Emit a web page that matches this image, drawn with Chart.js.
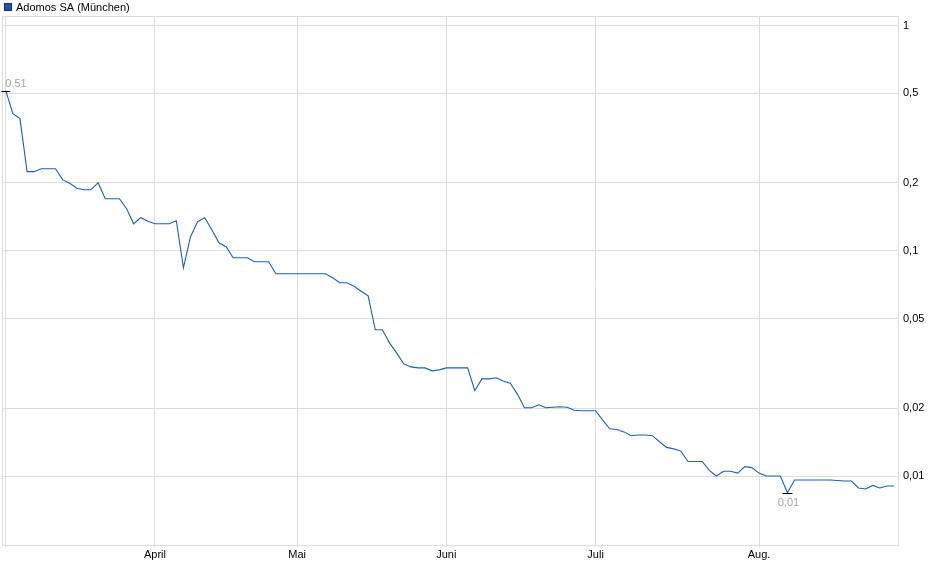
<!DOCTYPE html>
<html>
<head>
<meta charset="utf-8">
<script src="https://cdn.jsdelivr.net/npm/chart.js@4.4.0/dist/chart.umd.min.js"></script>
<style>
  html, body { margin: 0; padding: 0; background: #fff; }
</style>
</head>
<body>
<canvas id="kurs" width="940" height="579"></canvas>
<script>
// Kursdaten (Handelstage)
const seriesName = 'Adomos SA (München)';
const prices = [
    0.514, 0.406, 0.386, 0.2245, 0.2245, 0.2314, 0.2314, 0.2314, 0.2069, 0.1995,
    0.1896, 0.1867, 0.1867, 0.2006, 0.1702, 0.1702, 0.1702, 0.1537, 0.1318, 0.1402,
    0.1353, 0.1318, 0.1318, 0.1318, 0.136, 0.084, 0.1154, 0.1345, 0.1402, 0.124,
    0.1085, 0.1042, 0.0931, 0.0931, 0.0931, 0.0894, 0.0894, 0.0894, 0.079, 0.079,
    0.079, 0.079, 0.079, 0.079, 0.079, 0.079, 0.0759, 0.0721, 0.0721, 0.0696,
    0.0661, 0.0631, 0.0446, 0.0446, 0.039, 0.0352, 0.0315, 0.0305, 0.0302, 0.0302,
    0.0293, 0.0296, 0.0302, 0.0302, 0.0302, 0.0302, 0.0239, 0.027, 0.027, 0.0273,
    0.0264, 0.0258, 0.0231, 0.0201, 0.0201, 0.0207, 0.0201, 0.0202, 0.0203, 0.0202,
    0.0196, 0.0195, 0.0195, 0.0195, 0.0177, 0.0162, 0.0161, 0.0157, 0.0151, 0.0152,
    0.0152, 0.0151, 0.0142, 0.0134, 0.0132, 0.0129, 0.0116, 0.0116, 0.0116, 0.0106,
    0.0100, 0.0105, 0.0105, 0.0103, 0.0110, 0.0109, 0.0103, 0.0100, 0.0100, 0.0100,
    0.00843, 0.0096, 0.0096, 0.0096, 0.0096, 0.0096, 0.0096, 0.00955, 0.0095, 0.0095,
    0.00885, 0.00876, 0.00908, 0.00885, 0.00903, 0.00903
];
// Monatsanfaenge (Index des Handelstages)
const monthTicks = [0, 21, 41, 62, 83, 106];
const monthLabels = ['', 'April', 'Mai', 'Juni', 'Juli', 'Aug.'];
const yTicks = [1, 0.5, 0.2, 0.1, 0.05, 0.02, 0.01];

const fontFamily = '"Liberation Sans", Arial, sans-serif';
const gridColor = '#dddddd';
const lineColor = '#1d5cc4';

function fmt(v, digits) {
    return v.toFixed(digits).replace('.', ',');
}

// Rahmen, Legende und Hoch/Tief-Markierungen
const extras = {
    id: 'extras',
    beforeDatasetsDraw(chart) {
        const ctx = chart.ctx;
        const a = chart.chartArea;
        ctx.save();
        ctx.strokeStyle = gridColor;
        ctx.lineWidth = 1;
        ctx.strokeRect(Math.round(a.left) + 0.5, Math.round(a.top) + 0.5,
            Math.round(a.right) - Math.round(a.left), Math.round(a.bottom) - Math.round(a.top));
        ctx.restore();
    },
    afterDatasetsDraw(chart) {
        const ctx = chart.ctx;
        const xs = chart.scales.x;
        const ys = chart.scales.y;
        let hi = 0, lo = 0;
        prices.forEach((v, i) => {
            if (v > prices[hi]) hi = i;
            if (v < prices[lo]) lo = i;
        });
        ctx.save();
        ctx.font = '11px ' + fontFamily;
        ctx.lineWidth = 1;
        ctx.strokeStyle = '#000';
        // Hoch
        let px = xs.getPixelForValue(hi), py = Math.round(ys.getPixelForValue(prices[hi])) + 0.5;
        ctx.beginPath(); ctx.moveTo(px - 4.5, py); ctx.lineTo(px + 4.5, py); ctx.stroke();
        ctx.fillStyle = '#a3a6b0';
        ctx.textAlign = 'left';
        ctx.textBaseline = 'bottom';
        ctx.fillText(fmt(prices[hi], 2), px - 0.5, py - 2);
        // Tief
        px = xs.getPixelForValue(lo); py = Math.round(ys.getPixelForValue(prices[lo])) + 0.5;
        ctx.beginPath(); ctx.moveTo(px - 5, py); ctx.lineTo(px + 5, py); ctx.stroke();
        ctx.textAlign = 'center';
        ctx.textBaseline = 'top';
        ctx.fillText(fmt(prices[lo], 2), px + 1, py + 4);
        ctx.restore();
    },
    afterDraw(chart) {
        const ctx = chart.ctx;
        ctx.save();
        ctx.fillStyle = '#1e56b8';
        ctx.fillRect(4, 3, 8, 8);
        ctx.strokeStyle = '#142f6e';
        ctx.lineWidth = 1;
        ctx.strokeRect(4.5, 3.5, 7, 7);
        ctx.fillStyle = '#000';
        ctx.font = '11px ' + fontFamily;
        ctx.textBaseline = 'middle';
        ctx.fillText(chart.data.datasets[0].label, 16, 7.5);
        ctx.restore();
    }
};

const ctx = document.getElementById('kurs').getContext('2d');
new Chart(ctx, {
    type: 'line',
    data: {
        datasets: [{
            label: seriesName,
            data: prices.map((v, i) => ({ x: i, y: v })),
            borderColor: lineColor,
            borderWidth: 1.1,
            pointRadius: 0,
            tension: 0,
            fill: false
        }]
    },
    options: {
        responsive: false,
        animation: false,
        layout: { padding: { top: 16, left: 2, right: 0, bottom: 0 } },
        plugins: {
            legend: { display: false },
            tooltip: { enabled: false }
        },
        scales: {
            x: {
                type: 'linear',
                min: -0.53,
                max: 125.56,
                afterBuildTicks: scale => {
                    scale.ticks = monthTicks.map(v => ({ value: v }));
                },
                afterFit: scale => { scale.height = 34; },
                ticks: {
                    autoSkip: false,
                    maxRotation: 0,
                    padding: 1,
                    color: '#000',
                    font: { family: fontFamily, size: 11 },
                    callback: v => monthLabels[monthTicks.indexOf(v)]
                },
                grid: { color: gridColor, tickLength: 2, tickColor: gridColor },
                border: { display: false }
            },
            y: {
                type: 'logarithmic',
                position: 'right',
                min: 0.00494,
                max: 1.102,
                afterBuildTicks: scale => {
                    scale.ticks = yTicks.map(v => ({ value: v }));
                },
                afterFit: scale => { scale.width = 42; },
                ticks: {
                    padding: 5,
                    color: '#000',
                    font: { family: fontFamily, size: 11 },
                    callback: v => String(v).replace('.', ',')
                },
                grid: { color: gridColor, drawTicks: false },
                border: { display: false }
            }
        }
    },
    plugins: [extras]
});
</script>
</body>
</html>
